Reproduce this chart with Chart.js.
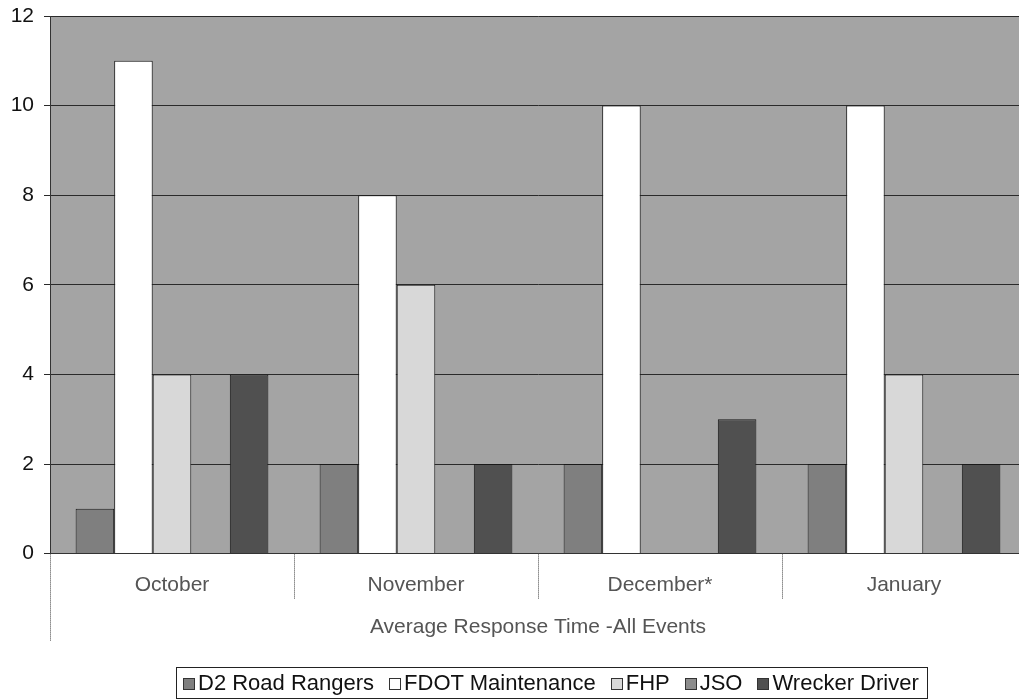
<!DOCTYPE html>
<html>
<head>
<meta charset="utf-8">
<script src="https://cdn.jsdelivr.net/npm/chart.js@4.4.0/dist/chart.umd.min.js"></script>
<style>
    html, body { margin: 0; padding: 0; background: #fff; overflow: hidden; }
    #wrap { position: relative; width: 1019px; height: 700px; overflow: hidden; }
    #chart { position: absolute; left: 0; top: 0; }
    #legend {
        position: absolute; left: 176px; top: 667px; height: 30px;
        border: 1px solid #222; padding: 0 8px 0 6px;
        font: 22px "Liberation Sans", Arial, sans-serif; line-height: 30px; color: #111;
        white-space: nowrap;
    }
    #legend .item { display: inline-block; margin-right: 15px; }
    #legend .item:last-child { margin-right: 0; }
    #legend .swatch {
        display: inline-block; width: 10px; height: 10px; margin-right: 3px;
        border: 1px solid #333; vertical-align: 0px;
    }
</style>
</head>
<body>
<div id="wrap">
    <canvas id="chart" width="1040" height="700"></canvas>
    <div id="legend"></div>
</div>
<script>
// Data
const months = ['October', 'November', 'December*', 'January'];
const d2RoadRangers = [1, 2, 2, 2];
const fdotMaintenance = [11, 8, 10, 10];
const fhp = [4, 6, 0, 4];
const jso = [0, 0, 0, 0];
const wreckerDriver = [4, 2, 3, 2];
const yMax = 12;
const yStep = 2;
const axisTitle = 'Average Response Time -All Events';

const FONT = '"Liberation Sans", Arial, sans-serif';

// Gray plot area + the category dividers under the axis
const chartFrame = {
    id: 'chartFrame',
    beforeDraw(chart) {
        const { ctx, chartArea: a } = chart;
        ctx.save();
        ctx.fillStyle = '#a4a4a4';
        ctx.fillRect(a.left, a.top, a.right - a.left, a.bottom - a.top);
        ctx.restore();
    },
    afterDraw(chart) {
        const { ctx, chartArea: a } = chart;
        const xs = chart.scales.x;
        const step = xs.getPixelForValue(1) - xs.getPixelForValue(0);
        ctx.save();
        ctx.strokeStyle = '#444';
        ctx.lineWidth = 1;
        ctx.setLineDash([1, 1]);
        ctx.beginPath();
        ctx.moveTo(a.left + 0.5, a.bottom);
        ctx.lineTo(a.left + 0.5, a.bottom + 88);
        for (let i = 1; i < months.length; i++) {
            const x = Math.round(xs.getPixelForValue(i) - step / 2) + 0.5;
            ctx.moveTo(x, a.bottom);
            ctx.lineTo(x, a.bottom + 45);
        }
        ctx.stroke();
        ctx.restore();
    }
};

const chart = new Chart(document.getElementById('chart'), {
    type: 'bar',
    data: {
        labels: months,
        datasets: [
            { label: 'D2 Road Rangers', data: d2RoadRangers, backgroundColor: '#7f7f7f' },
            { label: 'FDOT Maintenance', data: fdotMaintenance, backgroundColor: '#ffffff' },
            { label: 'FHP', data: fhp, backgroundColor: '#d8d8d8' },
            { label: 'JSO', data: jso, backgroundColor: '#8c8c8c' },
            { label: 'Wrecker Driver', data: wreckerDriver, backgroundColor: '#505050' }
        ]
    },
    options: {
        responsive: false,
        animation: false,
        layout: { padding: { top: 16, right: 14, bottom: 60, left: 0 } },
        datasets: {
            bar: {
                categoryPercentage: 0.79,
                barPercentage: 1,
                borderColor: '#1a1a1a',
                borderWidth: 1
            }
        },
        scales: {
            x: {
                grid: { display: false },
                border: { display: true, color: '#333', width: 1 },
                ticks: {
                    padding: 11,
                    color: '#555',
                    font: { family: FONT, size: 21 }
                },
                title: {
                    display: true,
                    text: axisTitle,
                    color: '#555',
                    font: { family: FONT, size: 21 },
                    padding: { top: 6, bottom: 0 }
                }
            },
            y: {
                min: 0,
                max: yMax,
                ticks: {
                    stepSize: yStep,
                    padding: 10,
                    color: '#111',
                    font: { family: FONT, size: 21 }
                },
                grid: { color: '#2a2a2a', lineWidth: 1, tickLength: 6 },
                border: { display: true, color: '#333', width: 1 },
                afterFit(scale) {
                    scale.width = 50;
                    scale.paddingTop = 0;
                    scale.paddingBottom = 0;
                }
            }
        },
        plugins: {
            legend: { display: false },
            tooltip: { enabled: false }
        }
    },
    plugins: [chartFrame]
});

// Legend box below the chart, built from the datasets
const legendEl = document.getElementById('legend');
chart.data.datasets.forEach(ds => {
    const item = document.createElement('span');
    item.className = 'item';
    const sw = document.createElement('span');
    sw.className = 'swatch';
    sw.style.background = ds.backgroundColor;
    item.appendChild(sw);
    item.appendChild(document.createTextNode(ds.label));
    legendEl.appendChild(item);
});
</script>
</body>
</html>
